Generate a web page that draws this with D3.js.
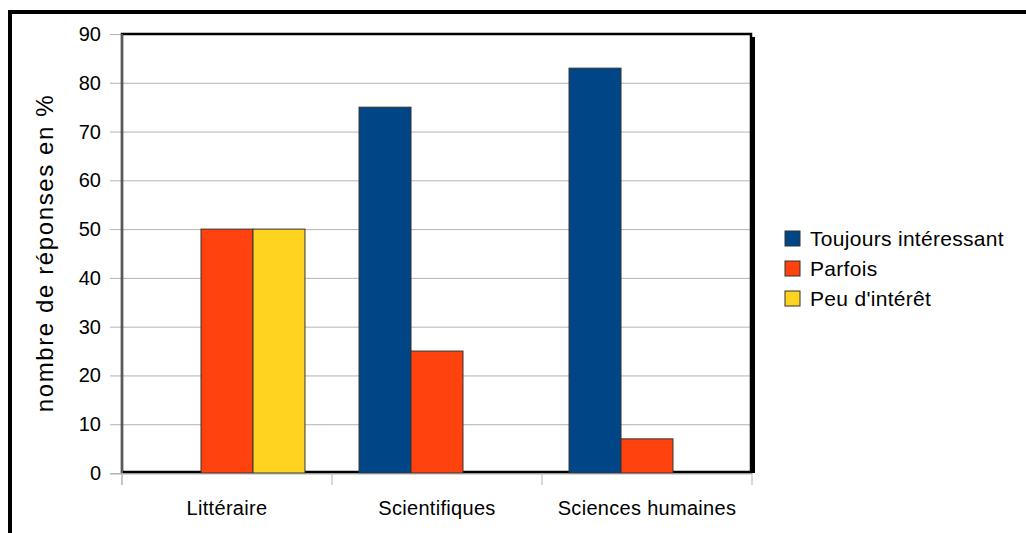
<!DOCTYPE html>
<html>
<head>
<meta charset="utf-8">
<script src="https://cdn.jsdelivr.net/npm/d3@7"></script>
<style>
  body { margin: 0; background: #fff; }
  text { font-family: "Liberation Sans", Arial, sans-serif; }
</style>
</head>
<body>
<div class="chart"></div>
<script>
const categories = ["Littéraire", "Scientifiques", "Sciences humaines"];
const series = ["Toujours intéressant", "Parfois", "Peu d'intérêt"];
const toujours = [0, 75, 83];
const parfois = [50, 25, 7];
const peu = [50, 0, 0];
const yTicks = [0, 10, 20, 30, 40, 50, 60, 70, 80, 90];
const colors = ["#004586", "#ff420e", "#ffd320"];

const values = [toujours, parfois, peu];
const rows = categories.map((c, i) => ({
    cat: c,
    vals: series.map((s, j) => ({ s: s, v: values[j][i] }))
}));

const margin = ({top: 34, right: 274, bottom: 60, left: 122});
const W = 1026, H = 533;
const width = W - margin.left - margin.right;   // 630
const height = H - margin.top - margin.bottom;  // 439

const svg = d3.select('.chart').append('svg')
    .attr("width", W)
    .attr("height", H);

// outer frame
svg.append("rect")
    .attr("x", 10).attr("y", 12)
    .attr("width", 1100).attr("height", 600)
    .attr("fill", "none")
    .attr("stroke", "black")
    .attr("stroke-width", 4);

const plot = svg.append("g")
    .attr("transform", "translate(" + margin.left + "," + margin.top + ")");

const x0 = d3.scaleBand()
    .domain(categories)
    .range([0, width]);

const x1 = d3.scaleBand()
    .domain(series)
    .range([0, x0.bandwidth()])
    .paddingOuter(0.52);

const yScale = d3.scaleLinear()
    .domain([0, 90])
    .range([height, 0]);

const colorPal = d3.scaleOrdinal().domain(series).range(colors);

// grid lines + left ticks
plot.append("g")
    .attr("class", "grid")
    .call(d3.axisLeft(yScale).tickValues(yTicks).tickSize(-width - 12).tickFormat(""))
    .attr("transform", "translate(-12,0)")
    .call(g => g.select(".domain").remove())
    .call(g => g.selectAll("line").attr("stroke", "#b3b3b3").attr("transform", "translate(12,0)").attr("x1", -12).attr("x2", width));

// plot frame with shadow
plot.append("rect")
    .attr("x", width - 1).attr("y", 3)
    .attr("width", 4).attr("height", height - 3)
    .attr("fill", "black");
plot.append("rect")
    .attr("x", 0).attr("y", 0)
    .attr("width", width - 1).attr("height", height - 1)
    .attr("fill", "none")
    .attr("stroke", "black")
    .attr("stroke-width", 2.5);

// bars
const groups = plot.selectAll("g.cat")
    .data(rows)
    .enter()
    .append("g")
    .attr("class", "cat")
    .attr("transform", d => `translate(${x0(d.cat)},0)`);

groups.selectAll("rect")
    .data(d => d.vals.filter(e => e.v > 0))
    .enter()
    .append("rect")
    .attr("x", d => x1(d.s))
    .attr("y", d => yScale(d.v))
    .attr("width", x1.bandwidth())
    .attr("height", d => height - yScale(d.v))
    .attr("fill", d => colorPal(d.s))
    .attr("stroke", "#333")
    .attr("stroke-width", 1);

// axes
plot.append("line")
    .attr("x1", 0).attr("x2", 0)
    .attr("y1", 0).attr("y2", height + 12)
    .attr("stroke", "#b3b3b3");
plot.append("line")
    .attr("x1", -12).attr("x2", width)
    .attr("y1", height + 1).attr("y2", height + 1)
    .attr("stroke", "#b3b3b3");

const xTickPos = [0, 1, 2].map(i => x0(categories[i])).concat([width]);
plot.selectAll("line.xtick")
    .data(xTickPos)
    .enter()
    .append("line")
    .attr("class", "xtick")
    .attr("x1", d => d).attr("x2", d => d)
    .attr("y1", height).attr("y2", height + 12)
    .attr("stroke", "#b3b3b3");

plot.selectAll("text.ytick")
    .data(yTicks)
    .enter()
    .append("text")
    .attr("class", "ytick")
    .attr("x", -21)
    .attr("y", d => yScale(d) + 7)
    .attr("text-anchor", "end")
    .attr("font-size", "20px")
    .attr("fill", "black")
    .text(d => d);

plot.selectAll("text.xlab")
    .data(categories)
    .enter()
    .append("text")
    .attr("class", "xlab")
    .attr("x", d => x0(d) + x0.bandwidth() / 2)
    .attr("y", height + 42)
    .attr("text-anchor", "middle")
    .attr("font-size", "20px")
    .attr("letter-spacing", "0.3px")
    .attr("fill", "black")
    .text(d => d);

svg.append("text")
    .attr("transform", "translate(53,253) rotate(-90)")
    .attr("text-anchor", "middle")
    .attr("font-size", "24px")
    .attr("letter-spacing", "1.6px")
    .attr("fill", "black")
    .text("nombre de réponses en %");

// legend
const legend = svg.selectAll("g.legend")
    .data(series)
    .enter()
    .append("g")
    .attr("class", "legend")
    .attr("transform", (d, i) => `translate(785,${231 + i * 30})`);

legend.append("rect")
    .attr("width", 15).attr("height", 15)
    .attr("fill", d => colorPal(d))
    .attr("stroke", "#333")
    .attr("stroke-width", 1);

legend.append("text")
    .attr("x", 25)
    .attr("y", 15)
    .attr("font-size", "21px")
    .attr("letter-spacing", "0.3px")
    .attr("fill", "black")
    .text(d => d);
</script>
</body>
</html>
